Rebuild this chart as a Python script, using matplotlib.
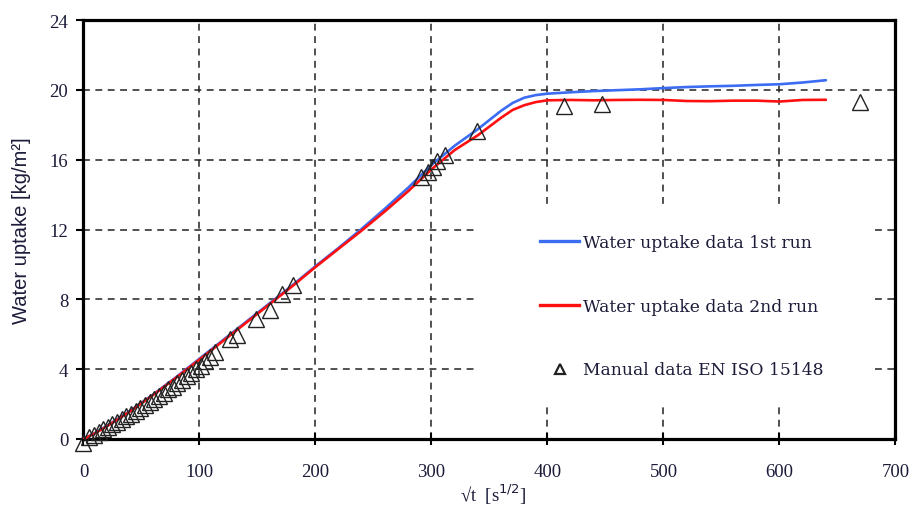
import matplotlib
matplotlib.use("Agg")
import matplotlib.pyplot as plt
from matplotlib.patches import Rectangle
from matplotlib.lines import Line2D

# ---------------- data ----------------
run1_x = [0, 10, 20, 40, 60, 80, 100, 120, 140, 160, 180, 200, 220, 240, 260, 280,
          300, 320, 340, 360, 370, 380, 390, 400, 420, 440, 460, 480, 500, 520,
          540, 560, 580, 600, 620, 640]
run1_y = [0, 0.35, 0.75, 1.6, 2.55, 3.55, 4.6, 5.65, 6.7, 7.75, 8.8, 9.9, 10.95,
          12.05, 13.2, 14.4, 15.7, 16.8, 17.75, 18.8, 19.25, 19.55, 19.7, 19.78,
          19.86, 19.93, 19.98, 20.03, 20.1, 20.16, 20.2, 20.23, 20.28, 20.32,
          20.42, 20.55]

run2_x = [0, 10, 20, 40, 60, 80, 100, 120, 140, 160, 180, 200, 220, 240, 260, 280,
          300, 310, 320, 340, 360, 370, 380, 390, 400, 420, 440, 460, 480, 500,
          520, 540, 560, 580, 600, 620, 640]
run2_y = [0, 0.33, 0.72, 1.57, 2.52, 3.52, 4.55, 5.6, 6.65, 7.7, 8.75, 9.85, 10.9,
          11.95, 13.05, 14.2, 15.45, 16.0, 16.55, 17.4, 18.4, 18.85, 19.12, 19.3,
          19.4, 19.42, 19.4, 19.42, 19.43, 19.42, 19.36, 19.35, 19.38, 19.38,
          19.33, 19.42, 19.43]

manual_x = [0, 5, 9, 13, 17, 21, 25, 29, 33, 37, 41, 45, 49, 53, 57, 61, 65, 69,
            73, 77, 81, 85, 89, 93, 97, 101, 105, 109, 113,
            126, 132, 149, 161, 171, 181,
            291, 297, 301, 305, 312, 339, 414, 447, 669]
manual_y = [-0.25, 0.1, 0.25, 0.4, 0.55, 0.7, 0.85, 1.0, 1.15, 1.3, 1.45, 1.6, 1.8,
            1.95, 2.1, 2.3, 2.45, 2.65, 2.85, 3.0, 3.2, 3.4, 3.6, 3.8, 4.0, 4.2,
            4.45, 4.7, 5.0,
            5.75, 5.95, 6.9, 7.4, 8.3, 8.8,
            15.0, 15.3, 15.6, 15.9, 16.25, 17.65, 19.1, 19.2, 19.3]

x_ticks = [0, 100, 200, 300, 400, 500, 600, 700]
y_ticks = [0, 4, 8, 12, 16, 20, 24]

labels = ["Water uptake data 1st run", "Water uptake data 2nd run",
          "Manual data EN ISO 15148"]

# ---------------- figure ----------------
fig = plt.figure(figsize=(9.12, 5.10), dpi=100)
ax = fig.add_axes([83.5 / 912, 1 - 440 / 510, 812 / 912, 419 / 510])

blue = "#3b6cf2"
red = "#ff1010"
text_col = "#1c1c3a"

ax.plot(run1_x, run1_y, color=blue, lw=1.9, zorder=3, solid_capstyle="round")
ax.plot(run2_x, run2_y, color=red, lw=1.9, zorder=3.1, solid_capstyle="round")
ax.plot(manual_x, manual_y, linestyle="none", marker="^", markersize=11.5,
        markerfacecolor="none", markeredgecolor="#222222", markeredgewidth=1.0,
        zorder=4, clip_on=False)

ax.set_xlim(0, 700)
ax.set_ylim(0, 24)
ax.set_xticks(x_ticks)
ax.set_yticks(y_ticks)
ax.set_axisbelow(True)
ax.grid(True, color="#222222", linestyle=(0, (4.5, 3.6)), linewidth=1.1)

for s in ax.spines.values():
    s.set_linewidth(2.3)
    s.set_color("black")

ax.tick_params(axis="x", direction="inout", length=8, width=1.5, pad=13,
               labelsize=13.5, labelcolor=text_col)
ax.tick_params(axis="y", direction="out", length=5, width=1.5, pad=6,
               labelsize=13.5, labelcolor=text_col)
for lab in ax.get_xticklabels() + ax.get_yticklabels():
    lab.set_fontfamily("Liberation Serif")

# white legend panel
ax.add_patch(Rectangle((0.482, 0.0835), 0.493, 0.4725, transform=ax.transAxes,
                       facecolor="white", edgecolor="none", zorder=2))

handles = [Line2D([], [], color=blue, lw=2.4),
           Line2D([], [], color=red, lw=2.4),
           Line2D([], [], linestyle="none", marker="^", markersize=7,
                  markerfacecolor="none", markeredgecolor="#222222",
                  markeredgewidth=1.6)]
leg = ax.legend(handles, labels, loc="center left",
                bbox_to_anchor=((540 - 83.5) / 812, (440 - 307) / 419),
                frameon=False, borderpad=0, borderaxespad=0,
                handlelength=2.3, handletextpad=0.2, labelspacing=2.75,
                prop={"family": "DejaVu Serif", "size": 12.3})
for t in leg.get_texts():
    t.set_color(text_col)
leg.set_zorder(5)

ax.set_ylabel("Water uptake [kg/m²]", fontfamily="Liberation Sans",
              fontsize=14.5, color=text_col, labelpad=13)
fig.text(493 / 912, 1 - 495 / 510, "\u221at  [s$^{1/2}$]", ha="center",
         va="center", fontsize=13.5, family=["Liberation Serif", "DejaVu Sans"],
         color=text_col)

fig.savefig("out.png", dpi=100, facecolor="white")
